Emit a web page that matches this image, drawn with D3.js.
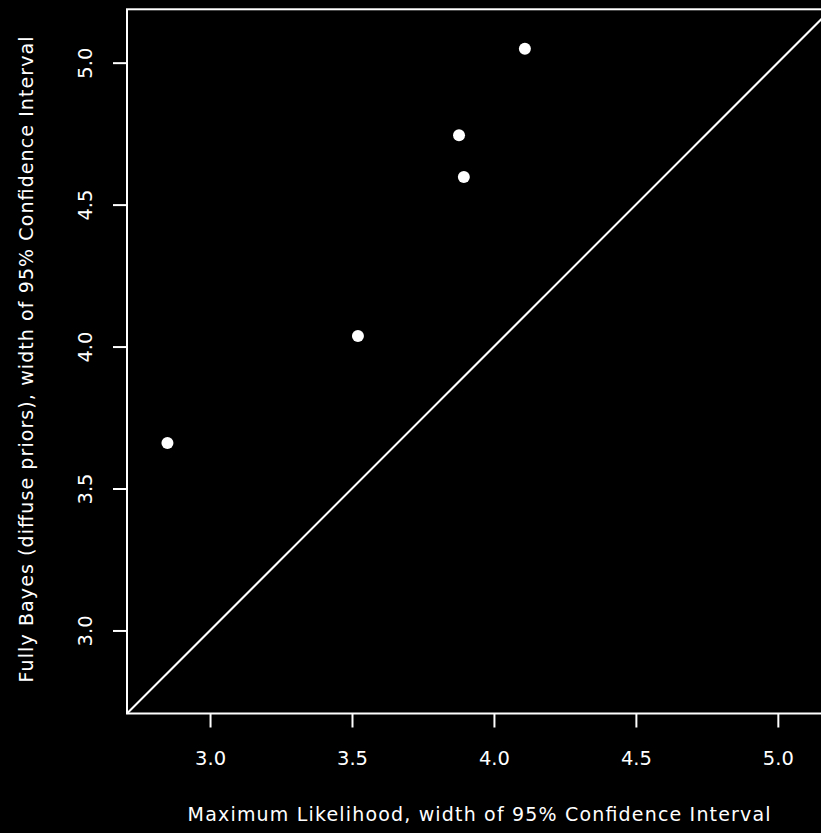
<!DOCTYPE html>
<html><head><meta charset="utf-8">
<script src="https://cdn.jsdelivr.net/npm/d3@7"></script>
<style>html,body{margin:0;padding:0;background:#000;overflow:hidden}</style>
</head><body>
<script>
const mlWidth = [2.850, 3.521, 3.877, 3.894, 4.109];
const bayesWidth = [3.660, 4.037, 4.744, 4.597, 5.049];
const tickValues = [3.0, 3.5, 4.0, 4.5, 5.0];
const xTitle = "Maximum Likelihood, width of 95% Confidence Interval";
const yTitle = "Fully Bayes (diffuse priors), width of 95% Confidence Interval";
const domain = [2.7075, 5.188];

const W = 821, H = 833;
const svg = d3.select("body").append("svg").attr("width", W).attr("height", H)
  .style("background", "#000").style("display","block");
const left = 127, bottom = 713.5;
const x = d3.scaleLinear().domain(domain).range([left, left + (domain[1]-domain[0])*283.9]);
const y = d3.scaleLinear().domain(domain).range([bottom, bottom - (domain[1]-domain[0])*283.9]);
const font = "'DejaVu Sans', sans-serif";
const fs = "19px";

// box
svg.append("rect").attr("x", x(domain[0])).attr("y", y(domain[1]))
  .attr("width", x(domain[1]) - x(domain[0])).attr("height", y(domain[0]) - y(domain[1]))
  .attr("fill", "none").attr("stroke", "#fff").attr("stroke-width", 2);

// diagonal
svg.append("line").attr("x1", x(domain[0])).attr("y1", y(domain[0]))
  .attr("x2", x(domain[1])).attr("y2", y(domain[1]))
  .attr("stroke", "#fff").attr("stroke-width", 2);

// axes
const xAxis = d3.axisBottom(x).tickValues(tickValues).tickFormat(d3.format(".1f")).tickSize(14).tickPadding(24);
const gx = svg.append("g").attr("transform", `translate(0,${bottom})`).call(xAxis);
gx.select(".domain").remove();
gx.selectAll("line").attr("stroke", "#fff").attr("stroke-width", 2);
gx.selectAll("text").attr("fill", "#fff").style("font-family", font).style("font-size", fs)
  .attr("dy", "0.71em").attr("textLength", 31).attr("lengthAdjust", "spacingAndGlyphs");

const yAxis = d3.axisLeft(y).tickValues(tickValues).tickFormat(d3.format(".1f")).tickSize(14).tickPadding(24);
const gy = svg.append("g").attr("transform", `translate(${left},0)`).call(yAxis);
gy.select(".domain").remove();
gy.selectAll("line").attr("stroke", "#fff").attr("stroke-width", 2);
gy.selectAll("text").attr("fill", "#fff").style("font-family", font).style("font-size", fs)
  .attr("text-anchor", "middle").attr("dy", null).attr("x", null)
  .attr("textLength", 31).attr("lengthAdjust", "spacingAndGlyphs")
  .attr("transform", "translate(-35.5,0) rotate(-90)");

// points
svg.append("g").selectAll("circle").data(mlWidth.map((v,i)=>[v,bayesWidth[i]])).join("circle")
  .attr("cx", d => x(d[0])).attr("cy", d => y(d[1])).attr("r", 6).attr("fill", "#fff");

// titles
const cx = (x(domain[0]) + x(domain[1])) / 2;
const cy = (y(domain[0]) + y(domain[1])) / 2;
svg.append("text").attr("x", cx).attr("y", 821).attr("text-anchor", "middle")
  .attr("fill", "#fff").style("font-family", font).style("font-size", fs)
  .attr("textLength", 583).attr("lengthAdjust", "spacing").text(xTitle);
svg.append("text").attr("transform", `translate(33,${cy - 2}) rotate(-90)`).attr("text-anchor", "middle")
  .attr("fill", "#fff").style("font-family", font).style("font-size", fs)
  .attr("textLength", 646).attr("lengthAdjust", "spacing").text(yTitle);
</script>
</body></html>
